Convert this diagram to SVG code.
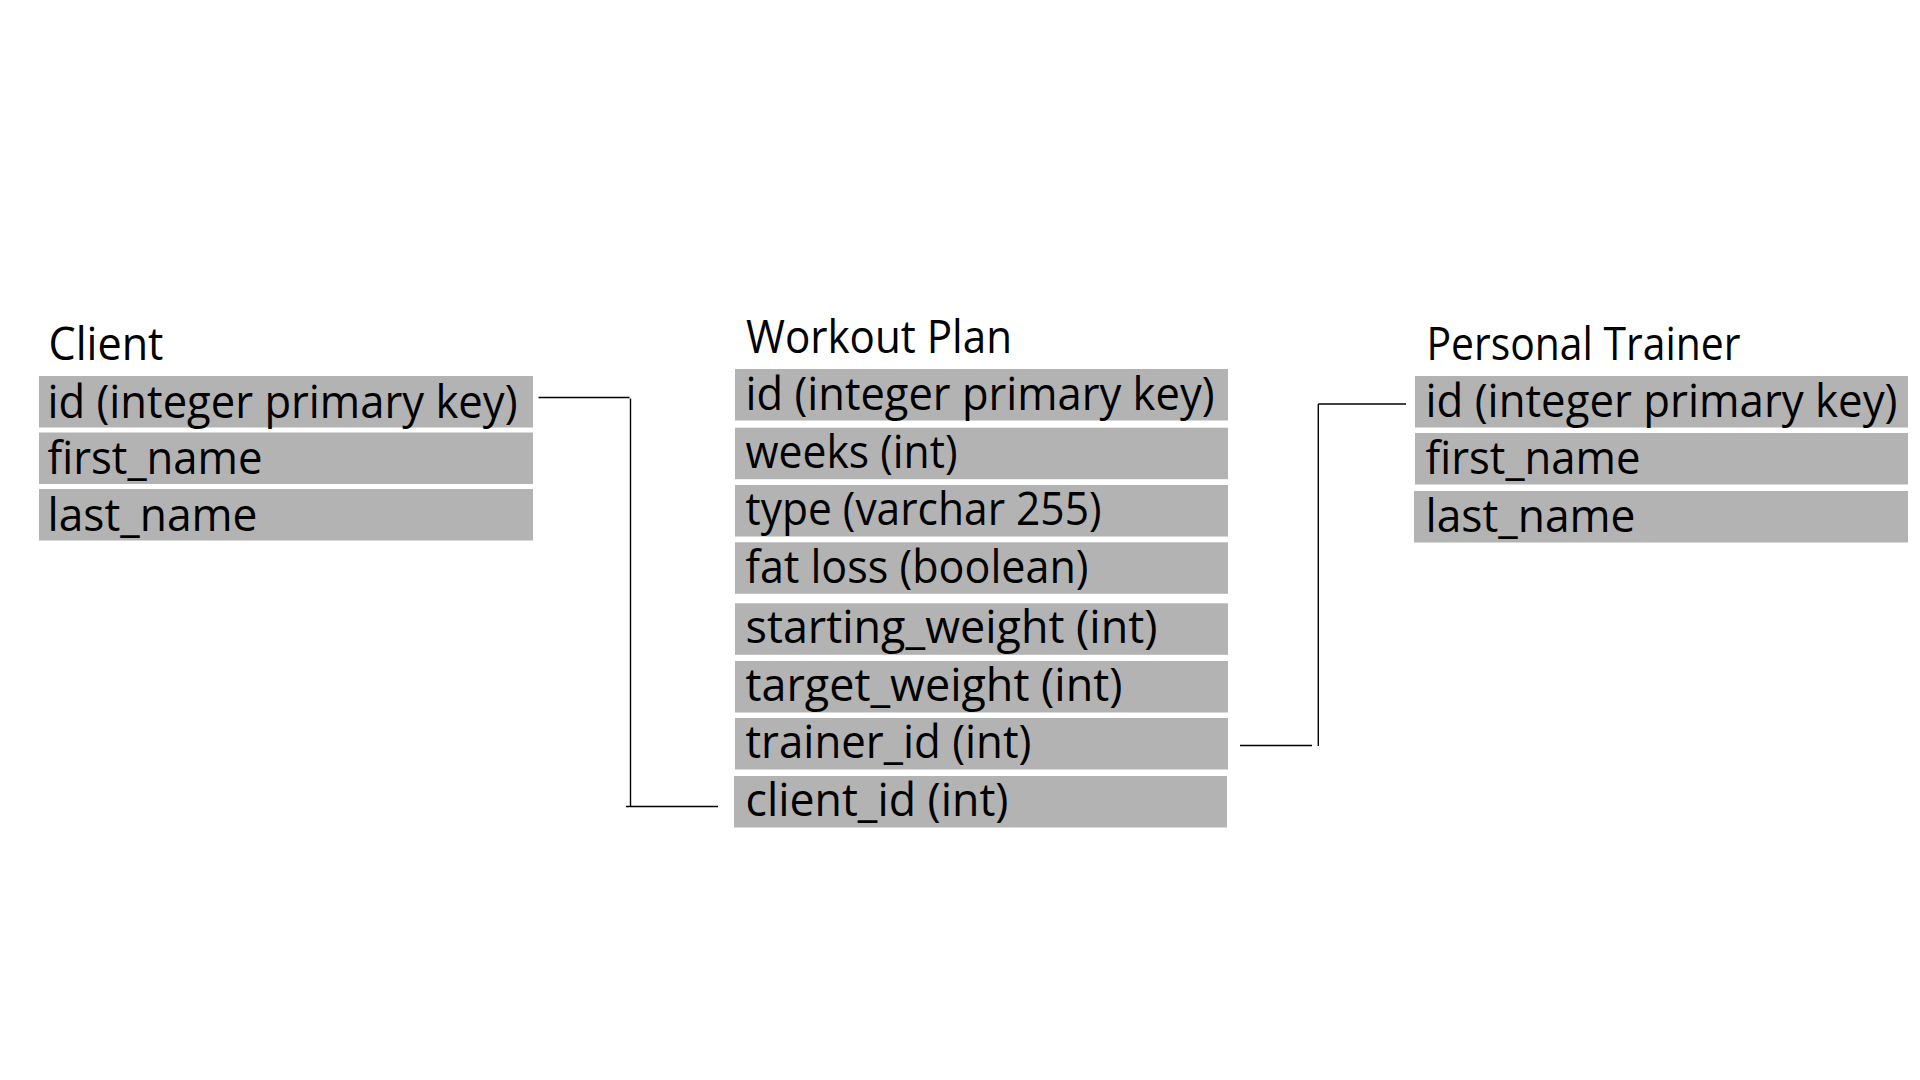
<svg xmlns="http://www.w3.org/2000/svg" width="1920" height="1080" viewBox="0 0 1920 1080">
<style>
.bg{fill:#ffffff}
.row{fill:#b3b3b3}
.t{font-family:"Open Sans","Noto Sans","Liberation Sans",sans-serif;font-size:46px;fill:#000000}
.conn{fill:none;stroke:#000000;stroke-width:1.4}
</style>
<rect class="bg" x="0" y="0" width="1920" height="1080"/>
<g id="client">
<text class="t" x="48.5" y="360" textLength="115" lengthAdjust="spacingAndGlyphs">Client</text>
<rect class="row" x="39" y="376" width="494" height="51.5"/>
<rect class="row" x="39" y="432.5" width="494" height="51.5"/>
<rect class="row" x="39" y="489" width="494" height="51.5"/>
<text class="t" x="47.5" y="417.5" textLength="470" lengthAdjust="spacingAndGlyphs">id (integer primary key)</text>
<text class="t" x="47.5" y="474" textLength="215" lengthAdjust="spacingAndGlyphs">first_name</text>
<text class="t" x="47.5" y="531" textLength="210" lengthAdjust="spacingAndGlyphs">last_name</text>
</g>
<g id="workout-plan">
<text class="t" x="746" y="352.7" textLength="266" lengthAdjust="spacingAndGlyphs">Workout Plan</text>
<rect class="row" x="735" y="369" width="493" height="51.5"/>
<rect class="row" x="735" y="427.7" width="493" height="51.5"/>
<rect class="row" x="735" y="485" width="493" height="51.5"/>
<rect class="row" x="735" y="542.3" width="493" height="51.5"/>
<rect class="row" x="735" y="603.3" width="493" height="51.5"/>
<rect class="row" x="735" y="661" width="493" height="51.5"/>
<rect class="row" x="735" y="718" width="493" height="51.5"/>
<rect class="row" x="734" y="776" width="493" height="51.5"/>
<text class="t" x="745.5" y="410" textLength="469" lengthAdjust="spacingAndGlyphs">id (integer primary key)</text>
<text class="t" x="745.5" y="467.7" textLength="212" lengthAdjust="spacingAndGlyphs">weeks (int)</text>
<text class="t" x="745.5" y="525" textLength="356" lengthAdjust="spacingAndGlyphs">type (varchar 255)</text>
<text class="t" x="745.5" y="582.8" textLength="343" lengthAdjust="spacingAndGlyphs">fat loss (boolean)</text>
<text class="t" x="745.5" y="643.3" textLength="412" lengthAdjust="spacingAndGlyphs">starting_weight (int)</text>
<text class="t" x="745.5" y="700.5" textLength="377" lengthAdjust="spacingAndGlyphs">target_weight (int)</text>
<text class="t" x="745.5" y="757.5" textLength="286" lengthAdjust="spacingAndGlyphs">trainer_id (int)</text>
<text class="t" x="745.5" y="815.5" textLength="263" lengthAdjust="spacingAndGlyphs">client_id (int)</text>
</g>
<g id="personal-trainer">
<text class="t" x="1426.5" y="360" textLength="314" lengthAdjust="spacingAndGlyphs">Personal Trainer</text>
<rect class="row" x="1415" y="376" width="493" height="51.5"/>
<rect class="row" x="1415" y="433" width="493" height="51.5"/>
<rect class="row" x="1414" y="491" width="494" height="51.5"/>
<text class="t" x="1425.5" y="417" textLength="472" lengthAdjust="spacingAndGlyphs">id (integer primary key)</text>
<text class="t" x="1425.5" y="474" textLength="215" lengthAdjust="spacingAndGlyphs">first_name</text>
<text class="t" x="1425.5" y="532" textLength="210" lengthAdjust="spacingAndGlyphs">last_name</text>
</g>
<g id="connectors">
<path class="conn" d="M538.5 397.5 H629.5"/>
<path class="conn" d="M630.5 398.5 V806.5"/>
<path class="conn" d="M626 806.5 H718"/>
<path class="conn" d="M1318.3 404 H1406"/>
<path class="conn" d="M1318.3 404 V746"/>
<path class="conn" d="M1240 745.5 H1312"/>
</g>
</svg>
